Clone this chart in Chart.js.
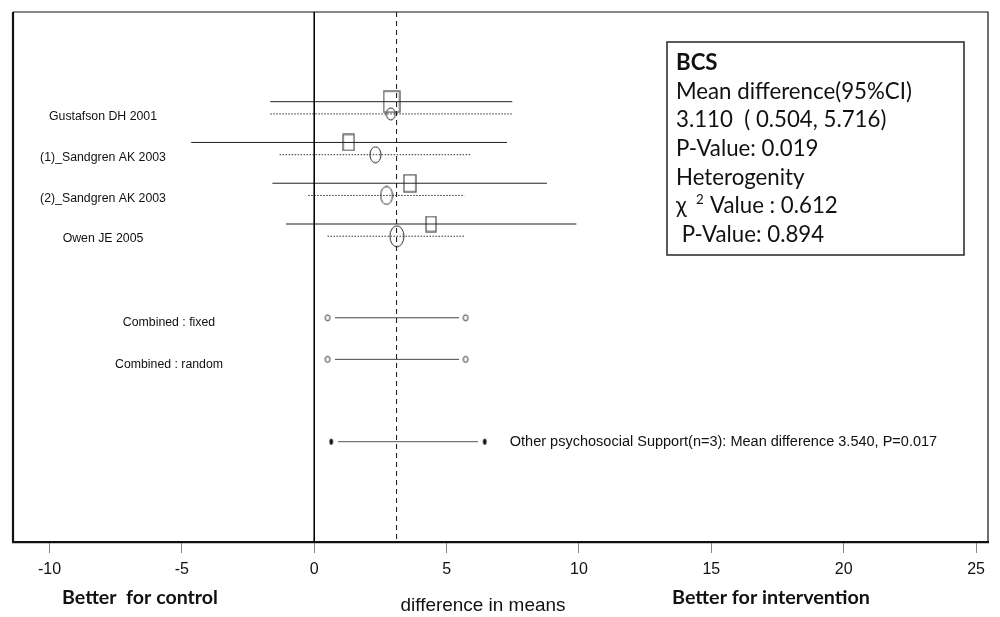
<!DOCTYPE html>
<html>
<head>
<meta charset="utf-8">
<script src="https://cdn.jsdelivr.net/npm/chart.js@4.4.1/dist/chart.umd.min.js"></script>
<style>
  html, body { margin: 0; padding: 0; background: #fff; }
  #wrap { width: 1000px; height: 617px; }
</style>
</head>
<body>
<div id="wrap"><canvas id="forest" width="1000" height="617"></canvas></div>
<script>
// study rows
const studies = ['Gustafson DH 2001', '(1)_Sandgren AK 2003', '(2)_Sandgren AK 2003', 'Owen JE 2005'];
const studyRows = [2.2, 3.2, 4.2, 5.2];
const fixedMean = [2.92, 1.30, 3.61, 4.41];
const fixedLower = [-1.66, -4.65, -1.58, -1.07];
const fixedUpper = [7.48, 7.28, 8.79, 9.90];
const randomMean = [2.89, 2.31, 2.73, 3.12];
const randomLower = [-1.66, -1.31, -0.23, 0.50];
const randomUpper = [7.48, 5.92, 5.67, 5.70];

// pooled rows
const pooledLabels = ['Combined : fixed', 'Combined : random'];
const pooledRows = [7.5, 8.52];
const pooledLower = [0.504, 0.504];
const pooledUpper = [5.716, 5.716];
const pooledMean = 3.110;

// subgroup row
const subgroupLabel = 'Other psychosocial Support(n=3): Mean difference 3.540, P=0.017';
const subgroupRow = 10.54;
const subgroupLower = 0.64;
const subgroupUpper = 6.44;

const xTicks = [-10, -5, 0, 5, 10, 15, 20, 25];
const infoLines = ['BCS', 'Mean difference(95%CI)', '3.110  ( 0.504, 5.716)', 'P-Value: 0.019',
  'Heterogenity', 'χ|2|Value : 0.612', ' P-Value: 0.894'];
const axisNotes = ['Better  for control', 'difference in means', 'Better for intervention'];

// marker sizes (box = fixed weight, ellipse = random weight)
const boxSize = [[16, 21], [11, 16], [12, 17], [10, 15]];
const ovalSize = [[9, 12], [11, 16], [12, 18], [14, 21]];

function markCanvas(w, h, draw) {
  const c = document.createElement('canvas');
  c.width = w; c.height = h;
  draw(c.getContext('2d'), w, h);
  return c;
}
const boxes = boxSize.map(([w, h]) => markCanvas(w + 2, h + 2, (g, cw, ch) => {
  g.strokeStyle = '#555'; g.lineWidth = 1.3;
  g.strokeRect(1, 1, w, h);
}));
const ovals = ovalSize.map(([w, h]) => markCanvas(w + 2, h + 2, (g, cw, ch) => {
  g.strokeStyle = '#222'; g.lineWidth = 1;
  g.beginPath(); g.ellipse(cw / 2, ch / 2, w / 2, h / 2, 0, 0, Math.PI * 2); g.stroke();
}));
const openEnd = markCanvas(14, 10, (g, cw, ch) => {
  g.fillStyle = '#fff'; g.fillRect(0, 0, cw, ch);
  g.strokeStyle = '#222'; g.lineWidth = 0.9;
  g.beginPath(); g.ellipse(cw / 2, ch / 2, 2.4, 3, 0, 0, Math.PI * 2); g.stroke();
});
const solidEnd = markCanvas(14, 10, (g, cw, ch) => {
  g.fillStyle = '#fff'; g.fillRect(0, 0, cw, ch);
  g.fillStyle = '#111';
  g.beginPath(); g.ellipse(cw / 2, ch / 2, 1.8, 3, 0, 0, Math.PI * 2); g.fill();
});

function seg(x0, x1, y, extra) {
  return Object.assign({
    data: [{ x: x0, y: y }, { x: x1, y: y }],
    showLine: true, borderColor: '#222', borderWidth: 1, pointRadius: 0
  }, extra || {});
}

const datasets = [];
datasets.push(seg(0, 0, 0, { data: [{ x: 0, y: 0 }, { x: 0, y: 13 }], borderColor: '#000' }));
datasets.push(seg(pooledMean, pooledMean, 0, { data: [{ x: pooledMean, y: 0 }, { x: pooledMean, y: 13 }], borderColor: '#111', borderDash: [5, 4] }));
studies.forEach((s, i) => {
  datasets.push(seg(fixedLower[i], fixedUpper[i], studyRows[i]));
  datasets.push(seg(randomLower[i], randomUpper[i], studyRows[i] + 0.3, { borderDash: [1.5, 1.5], borderColor: '#333' }));
});
datasets.push({
  data: fixedMean.map((v, i) => ({ x: v, y: studyRows[i] })),
  showLine: false, pointRadius: 3, pointStyle: boxes
});
datasets.push({
  data: randomMean.map((v, i) => ({ x: v, y: studyRows[i] + 0.3 })),
  showLine: false, pointRadius: 3, pointStyle: ovals
});
pooledRows.forEach((r, i) => {
  datasets.push(seg(pooledLower[i], pooledUpper[i], r, { borderColor: '#444', pointRadius: 3, pointStyle: openEnd }));
});
datasets.push(seg(subgroupLower, subgroupUpper, subgroupRow, { borderColor: '#777', borderWidth: 1.2, pointRadius: 3, pointStyle: solidEnd }));

function fitFont(ctx, text, weight, family, width) {
  ctx.font = weight + ' 20px ' + family;
  return 20 * width / ctx.measureText(text).width;
}

const decor = {
  id: 'decor',
  afterDraw(chart) {
    const ctx = chart.ctx, a = chart.chartArea;
    const xs = chart.scales.x, ys = chart.scales.y;
    ctx.save();
    // frame
    ctx.strokeStyle = '#111';
    ctx.lineWidth = 2.2;
    ctx.beginPath(); ctx.moveTo(a.left, a.top); ctx.lineTo(a.left, a.bottom); ctx.stroke();
    ctx.lineWidth = 1.2;
    ctx.beginPath(); ctx.moveTo(a.left, a.top); ctx.lineTo(a.right, a.top); ctx.lineTo(a.right, a.bottom); ctx.stroke();

    // row labels
    const sans = '"Liberation Sans", Arial, sans-serif';
    ctx.fillStyle = '#111';
    ctx.textBaseline = 'middle';
    ctx.textAlign = 'center';
    ctx.font = '12.3px ' + sans;
    studies.forEach((s, i) => ctx.fillText(s, 103, ys.getPixelForValue(studyRows[i] + 0.37)));
    pooledLabels.forEach((s, i) => ctx.fillText(s, 169, ys.getPixelForValue(pooledRows[i] + 0.12)));
    ctx.textAlign = 'left';
    ctx.font = fitFont(ctx, subgroupLabel, 'normal', sans, 428) + 'px ' + sans;
    ctx.fillText(subgroupLabel, xs.getPixelForValue(subgroupUpper) + 25, ys.getPixelForValue(subgroupRow));

    // info box
    ctx.strokeStyle = '#333'; ctx.lineWidth = 1.6;
    ctx.strokeRect(667, 42, 297, 213);
    const fam = 'Lato, "Open Sans", sans-serif';
    const fs = fitFont(ctx, infoLines[1], 'normal', fam, 236);
    infoLines.forEach((t, i) => {
      const y = 63 + i * 28.6;
      ctx.font = (i === 0 ? 'bold ' : 'normal ') + fs + 'px ' + fam;
      ctx.fillStyle = '#111';
      if (t.indexOf('|') >= 0) {
        const [pre, sup, post] = t.split('|');
        ctx.fillText(pre, 676, y);
        ctx.font = (fs * 0.6) + 'px ' + fam;
        ctx.fillText(sup, 696, y - 6);
        ctx.font = fs + 'px ' + fam;
        ctx.fillText(post, 710, y);
      } else {
        ctx.fillText(t, 676, y);
      }
    });

    // axis notes
    ctx.textAlign = 'center';
    ctx.font = 'bold ' + fitFont(ctx, axisNotes[0], 'bold', fam, 156) + 'px ' + fam;
    ctx.fillText(axisNotes[0], 140, 598);
    ctx.font = 'bold ' + fitFont(ctx, axisNotes[2], 'bold', fam, 198) + 'px ' + fam;
    ctx.fillText(axisNotes[2], 771, 598);
    ctx.font = fitFont(ctx, axisNotes[1], 'normal', sans, 165) + 'px ' + sans;
    ctx.fillText(axisNotes[1], 483, 606);
    ctx.restore();
  }
};

new Chart(document.getElementById('forest'), {
  type: 'scatter',
  data: { datasets: datasets },
  options: {
    responsive: false,
    animation: false,
    events: [],
    layout: { padding: { left: 13, right: 12, top: 12, bottom: 0 } },
    plugins: { legend: { display: false }, tooltip: { enabled: false } },
    scales: {
      x: {
        type: 'linear', min: -11.38, max: 25.45,
        afterBuildTicks: (s) => { s.ticks = xTicks.map(v => ({ value: v })); },
        afterFit: (s) => { s.height = 75; },
        border: { display: true, color: '#111', width: 2.2 },
        grid: { drawOnChartArea: false, drawTicks: true, tickLength: 11, color: '#888' },
        ticks: {
          padding: 7, color: '#111', autoSkip: false, maxRotation: 0,
          font: { family: '"Liberation Sans", Arial, sans-serif', size: 16 },
          callback: (v) => String(v)
        }
      },
      y: { type: 'linear', min: 0, max: 13, reverse: true, display: false }
    }
  },
  plugins: [decor]
});
</script>
</body>
</html>
